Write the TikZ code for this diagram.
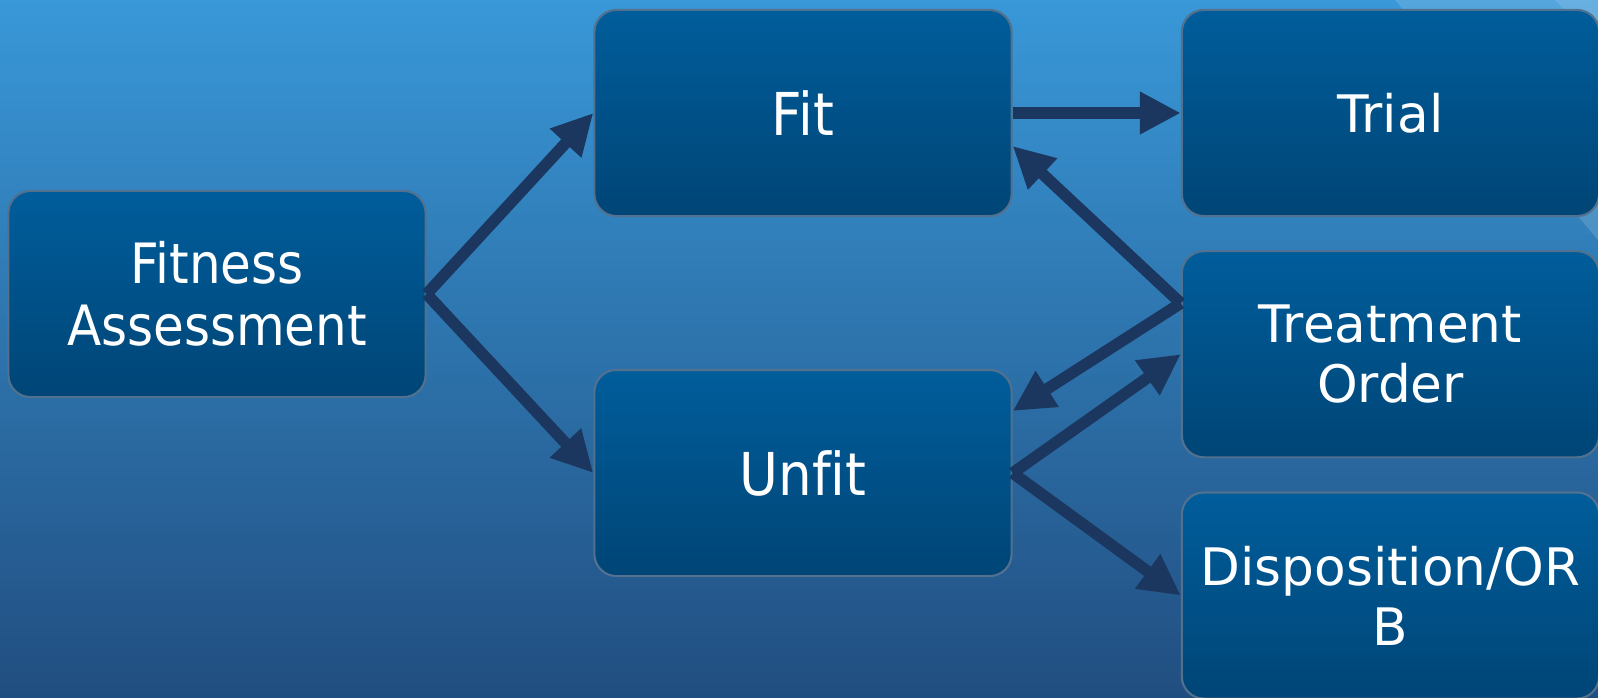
\documentclass[tikz,border=0pt]{standalone}
\usepackage{fontspec}
\setsansfont{DejaVu Sans}[Ligatures=NoCommon]
\newfontfamily\condfont{DejaVu Sans}[FakeStretch=0.9, Ligatures=NoCommon]
\usetikzlibrary{arrows.meta, positioning}
\definecolor{bgtop}{HTML}{3998D8}
\definecolor{bgbot}{HTML}{214E80}
\definecolor{boxtop}{HTML}{005D9B}
\definecolor{boxbot}{HTML}{004576}
\definecolor{boxedge}{HTML}{52718F}
\definecolor{arrowcol}{HTML}{1C375F}

\begin{document}
\begin{tikzpicture}[x=0.01cm, y=-0.01cm,
  stage/.style={draw=boxedge, line width=0.6pt, rounded corners=0.22cm,
                top color=boxtop, bottom color=boxbot, minimum width=4.17cm,
                minimum height=2.06cm, align=center, text=white, inner sep=0pt},
  wide/.style={stage, font=\sffamily\fontsize{14.7}{17.1}\selectfont},
  narrow/.style={stage, font=\condfont\fontsize{16.8}{17.6}\selectfont},
  arr/.style={-{Triangle[length=0.41cm, width=0.4cm]}, line width=0.115cm, draw=arrowcol},
  node distance=0.33cm and 1.68cm,
]
  \fill[top color=bgtop, bottom color=bgbot] (0,0) rectangle (1598,697);
  \useasboundingbox (0,0) rectangle (1598,697);
  \fill[white, opacity=0.14] (1395,0) -- (1598,0) -- (1598,240) -- cycle;
  \fill[white, opacity=0.12] (1555,0) -- (1598,0) -- (1598,45) -- cycle;

  \node[narrow, font=\condfont\fontsize{15.8}{17.6}\selectfont] (fitness) at (217,294) {Fitness\\Assessment};
  \node[narrow] (fit) at (803,113) {Fit};
  \node[narrow] (unfit) at (803,473) {Unfit};
  \node[wide, right=of fit] (trial) {Trial};
  \node[wide, below=of trial] (treat) {Treatment\\Order};
  \node[wide, below=of treat] (disp) {Disposition/OR\\B};

  \draw[arr] (fitness.east) -- (fit.west);
  \draw[arr] (fitness.east) -- (unfit.west);
  \draw[arr] (fit.east) -- (trial.west);
  \draw[arr] ([yshift=0.51cm]treat.west) -- ([yshift=-0.33cm]fit.east);
  \draw[arr] ([yshift=0.51cm]treat.west) -- ([yshift=0.62cm]unfit.east);
  \draw[arr] (unfit.east) -- (treat.west);
  \draw[arr] (unfit.east) -- (disp.west);
\end{tikzpicture}
\end{document}
